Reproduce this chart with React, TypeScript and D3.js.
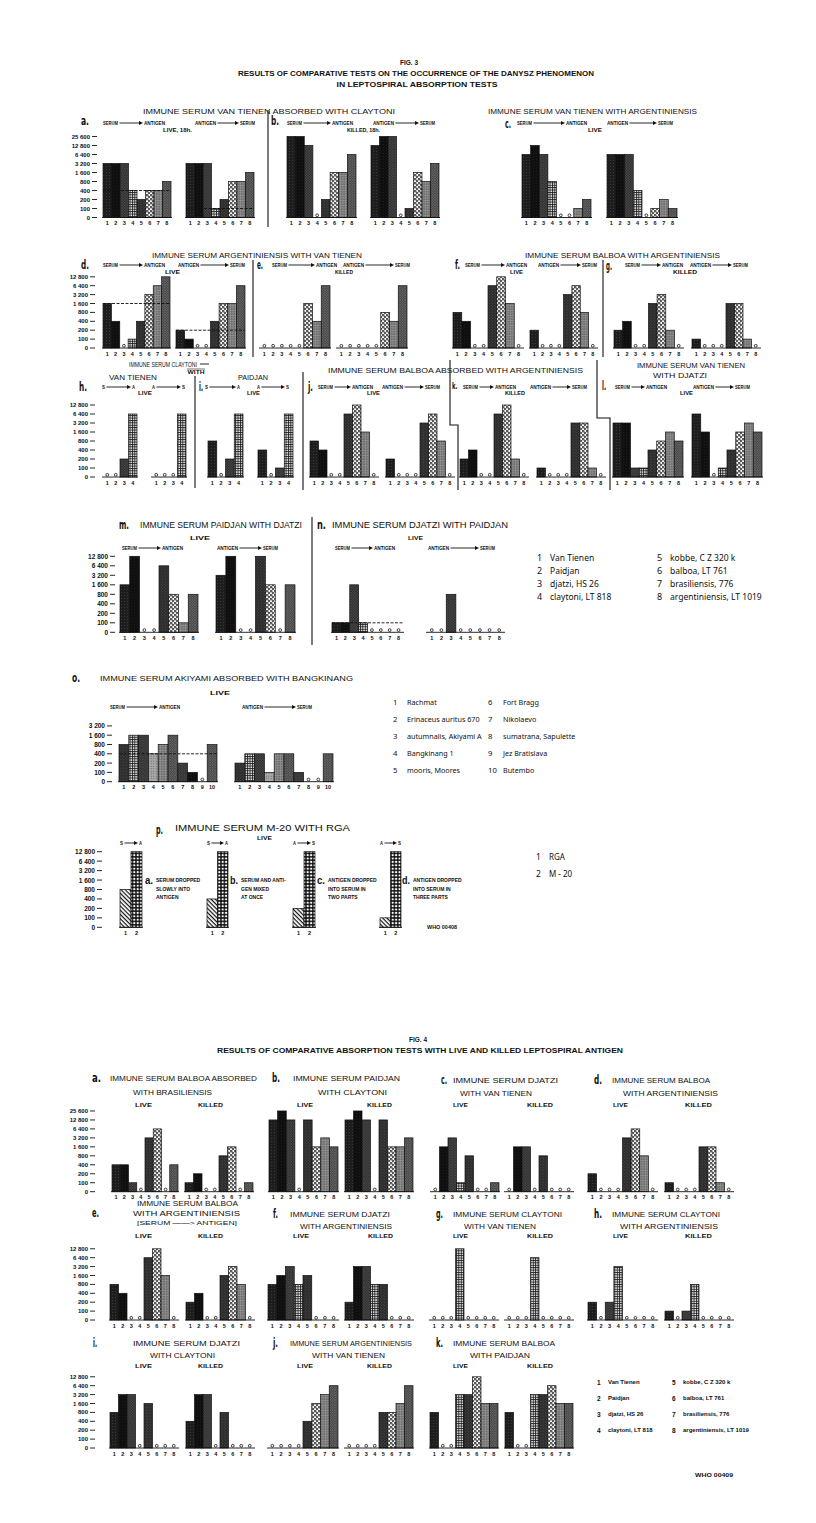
import React from 'react';
import * as d3 from 'd3';

// ---------------- DATA ----------------
const titreTicks = [0, 100, 200, 400, 800, 1600, 3200, 6400, 12800, 25600];
const titreTickLabels = ['0', '100', '200', '400', '800', '1 600', '3 200', '6 400', '12 800', '25 600'];
const strains8 = ['1', '2', '3', '4', '5', '6', '7', '8'];
const strains4 = ['1', '2', '3', '4'];
const strains10 = ['1', '2', '3', '4', '5', '6', '7', '8', '9', '10'];
const strains2 = ['1', '2'];

// Fig. 3
const f3a_sa = [3200, 3200, 3200, 400, 200, 400, 400, 800];
const f3a_as = [3200, 3200, 3200, 100, 200, 800, 800, 1600];
const f3b_sa = [25600, 25600, 12800, 0, 200, 1600, 1600, 6400];
const f3b_as = [12800, 25600, 25600, 0, 100, 1600, 800, 3200];
const f3c_sa = [6400, 12800, 6400, 800, 0, 0, 100, 200];
const f3c_as = [6400, 6400, 6400, 400, 0, 100, 200, 100];
const f3d_sa = [1600, 400, 0, 100, 400, 3200, 6400, 12800];
const f3d_as = [200, 100, 0, 0, 400, 1600, 1600, 6400];
const f3e_sa = [0, 0, 0, 0, 0, 1600, 400, 6400];
const f3e_as = [0, 0, 0, 0, 0, 800, 400, 6400];
const f3f_sa = [800, 400, 0, 0, 6400, 12800, 1600, 0];
const f3f_as = [200, 0, 0, 0, 3200, 6400, 800, 0];
const f3g_sa = [200, 400, 0, 0, 1600, 3200, 200, 0];
const f3g_as = [100, 0, 0, 0, 1600, 1600, 100, 0];
const f3h_sa = [0, 0, 200, 6400];
const f3h_as = [0, 0, 0, 6400];
const f3i_sa = [800, 0, 200, 6400];
const f3i_as = [400, 0, 100, 6400];
const f3j_sa = [800, 400, 0, 0, 6400, 12800, 1600, 0];
const f3j_as = [200, 0, 0, 0, 3200, 6400, 800, 0];
const f3k_sa = [200, 400, 0, 0, 6400, 12800, 200, 0];
const f3k_as = [100, 0, 0, 0, 3200, 3200, 100, 0];
const f3l_sa = [3200, 3200, 100, 100, 400, 800, 1600, 800];
const f3l_as = [6400, 1600, 0, 100, 400, 1600, 3200, 1600];
const f3m_sa = [1600, 12800, 0, 0, 6400, 800, 100, 800];
const f3m_as = [3200, 12800, 0, 0, 12800, 1600, 0, 1600];
const f3n_sa = [100, 100, 1600, 100, 0, 0, 0, 0];
const f3n_as = [0, 0, 800, 0, 0, 0, 0, 0];
const f3o_sa = [800, 1600, 1600, 400, 800, 1600, 200, 100, 0, 800];
const f3o_as = [200, 400, 400, 100, 400, 400, 100, 0, 0, 400];
const f3p_rga = [800, 400, 200, 100];
const f3p_m20 = [12800, 12800, 12800, 12800];
// serum reference titres (horizontal lines)
const refA = [400, 100];
const refD = [1600, 200];
const refN = [100];
const refO = [400];

// Fig. 4
const f4a_live = [400, 400, 100, 0, 3200, 6400, 0, 400];
const f4a_killed = [100, 200, 0, 0, 800, 1600, 0, 100];
const f4b_live = [12800, 25600, 12800, 0, 12800, 1600, 3200, 1600];
const f4b_killed = [12800, 25600, 12800, 0, 12800, 1600, 1600, 3200];
const f4c_live = [0, 1600, 3200, 100, 800, 0, 0, 100];
const f4c_killed = [0, 1600, 1600, 0, 800, 0, 0, 0];
const f4d_live = [200, 0, 0, 0, 3200, 6400, 800, 0];
const f4d_killed = [100, 0, 0, 0, 1600, 1600, 100, 0];
const f4e_live = [800, 400, 0, 0, 6400, 12800, 1600, 0];
const f4e_killed = [200, 400, 0, 0, 1600, 3200, 800, 0];
const f4f_live = [800, 1600, 3200, 800, 1600, 0, 0, 0];
const f4f_killed = [200, 3200, 3200, 800, 800, 0, 0, 0];
const f4g_live = [0, 0, 0, 12800, 0, 0, 0, 0];
const f4g_killed = [0, 0, 0, 6400, 0, 0, 0, 0];
const f4h_live = [200, 0, 200, 3200, 0, 0, 0, 0];
const f4h_killed = [100, 0, 100, 800, 0, 0, 0, 0];
const f4i_live = [800, 3200, 3200, 0, 1600, 0, 0, 0];
const f4i_killed = [400, 3200, 3200, 0, 800, 0, 0, 0];
const f4j_live = [0, 0, 0, 0, 400, 1600, 3200, 6400];
const f4j_killed = [0, 0, 0, 0, 800, 800, 1600, 6400];
const f4k_live = [800, 0, 0, 3200, 3200, 12800, 1600, 1600];
const f4k_killed = [800, 0, 0, 3200, 3200, 6400, 1600, 1600];

// Legends
const legend8Names = ['Van Tienen', 'Paidjan', 'djatzi, HS 26', 'claytoni, LT 818', 'kobbe, C Z  320 k', 'balboa, LT 761', 'brasiliensis,  776', 'argentiniensis, LT 1019'];
const legendONames = ['Rachmat', 'Erinaceus auritus 670', 'autumnalis, Akiyami A', 'Bangkinang  1', 'mooris, Moores', 'Fort Bragg', 'Nikolaevo', 'sumatrana, Sapulette', 'Jez Bratislava', 'Butembo'];
const legendPNames = ['RGA', 'M - 20'];

// ---------------- STYLE ----------------
const FONT = "'Liberation Sans', 'DejaVu Sans', Arial, sans-serif";
const LFONT = "'Noto Sans', 'Liberation Sans', sans-serif";
const INK = '#111';
const pats8 = ['p1', 'p2', 'p3', 'p4', 'p5', 'p6', 'p7', 'p8'];
const patsO = ['p5', 'p4', 'p3', 'pl', 'p7', 'p8', 'p3', 'p2', 'p1', 'p8'];
const patsP = ['hatch', 'rings'];

const levelOf = (t: number) => (t <= 0 ? 0 : Math.log2(t / 50));

function T({ x, y, w, a = 'start', s = 6, wt = 700, f = FONT, children }: any) {
  const extra: any = w ? { textLength: w, lengthAdjust: 'spacingAndGlyphs' } : {};
  return (
    <text x={x} y={y} fontSize={s} fontWeight={wt} fontFamily={f} textAnchor={a}
      dominantBaseline="central" fill={INK} {...extra}>{children}</text>
  );
}

const Title = ({ x0, x1, y, children, s = 8 }: any) => (
  <T x={x0} y={y} w={x1 - x0} s={s} wt={400}>{children}</T>
);
const Letter = ({ x, y, children, w = 8, s = 12 }: any) => (
  <T x={x} y={y} w={w} s={s} wt={700} f="'DejaVu Sans', 'Liberation Sans', sans-serif">{children}</T>
);

function Arrow({ x0, x1, y, l = 'SERUM', r = 'ANTIGEN', s = 5 }: any) {
  const cw = s * 0.6;
  const lw = l.length * cw;
  const rw = r.length * cw;
  const ax0 = x0 + lw + 1.5;
  const ax1 = x1 - rw - 1;
  return (
    <g>
      <T x={x0} y={y} w={lw} s={s}>{l}</T>
      <line x1={ax0} x2={ax1 - 3} y1={y} y2={y} stroke={INK} strokeWidth={0.9} />
      <path d={`M${ax1 - 4},${y - 2}L${ax1},${y}L${ax1 - 4},${y + 2}Z`} fill={INK} />
      <T x={x1 - rw} y={y} w={rw} s={s}>{r}</T>
    </g>
  );
}

function YAxis({ dashX, base, step, max, s = 6 }: any) {
  const y = d3.scaleLinear().domain([0, 9]).range([base, base - 9 * step]);
  return (
    <g>
      {titreTicks.slice(0, max + 1).map((t, i) => (
        <g key={t}>
          <T x={dashX - 7} y={y(levelOf(t))} a="end" s={s}>{titreTickLabels[i]}</T>
          <line x1={dashX - 5} x2={dashX} y1={y(levelOf(t))} y2={y(levelOf(t))} stroke={INK} strokeWidth={0.9} />
        </g>
      ))}
    </g>
  );
}

function Cluster({ v, x0, x1, base, step, pats = pats8, labels = strains8, refT }: any) {
  const xs = d3.scaleBand<number>().domain(d3.range(v.length)).range([x0, x1]);
  const ys = d3.scaleLinear().domain([0, 9]).range([base, base - 9 * step]);
  const bw = xs.bandwidth();
  return (
    <g>
      {v.map((t: number, i: number) =>
        t > 0 ? (
          <rect key={i} x={xs(i)} y={ys(levelOf(t))} width={bw} height={base - ys(levelOf(t))}
            fill={`url(#${pats[i % pats.length]})`} stroke={INK} strokeWidth={0.7} />
        ) : (
          <circle key={i} cx={(xs(i) as number) + bw / 2} cy={base - 2.2} r={1.4}
            fill="none" stroke={INK} strokeWidth={0.8} />
        )
      )}
      <line x1={x0 - 1} x2={x1 + 1} y1={base} y2={base} stroke={INK} strokeWidth={0.9} />
      {labels.map((lb: string, i: number) => (
        <text key={'l' + i} x={(xs(i) as number) + bw / 2} y={base + 5.5} fontSize={5.5} fontWeight={700}
          textAnchor="middle" dominantBaseline="central" fontFamily={FONT} fill={INK}>{lb}</text>
      ))}
      {refT != null && (
        <line x1={x0} x2={x1} y1={ys(levelOf(refT))} y2={ys(levelOf(refT))} stroke={INK}
          strokeWidth={0.9} strokeDasharray="3 1.5" />
      )}
    </g>
  );
}

function Defs() {
  return (
    <defs>
      <pattern id="p1" width="3" height="3" patternUnits="userSpaceOnUse">
        <rect width="3" height="3" fill="#1d1d1d" />
        <rect x="1" y="1" width="0.8" height="0.8" fill="#4a4a4a" />
      </pattern>
      <pattern id="p2" width="3" height="3" patternUnits="userSpaceOnUse">
        <rect width="3" height="3" fill="#0f0f0f" />
        <rect x="2" y="0" width="0.6" height="0.6" fill="#333" />
      </pattern>
      <pattern id="p3" width="2.6" height="2.6" patternUnits="userSpaceOnUse">
        <rect width="2.6" height="2.6" fill="#2a2a2a" />
        <path d="M0,0L2.6,2.6M2.6,0L0,2.6" stroke="#5a5a5a" strokeWidth="0.5" />
      </pattern>
      <pattern id="p4" width="2.4" height="2.4" patternUnits="userSpaceOnUse">
        <rect width="2.4" height="2.4" fill="#eee" />
        <rect width="2.4" height="0.9" fill="#222" />
        <rect width="0.9" height="2.4" fill="#222" />
      </pattern>
      <pattern id="p5" width="3" height="3" patternUnits="userSpaceOnUse">
        <rect width="3" height="3" fill="#2c2c2c" />
        <circle cx="0.8" cy="0.8" r="0.45" fill="#6a6a6a" />
        <circle cx="2.3" cy="2.2" r="0.45" fill="#555" />
      </pattern>
      <pattern id="p6" width="4" height="4" patternUnits="userSpaceOnUse">
        <rect width="4" height="4" fill="#f4f4f4" />
        <circle cx="1" cy="1" r="0.9" fill="#111" />
        <circle cx="3" cy="3" r="0.9" fill="#111" />
        <rect x="2.6" y="0.2" width="0.8" height="0.6" fill="#111" />
        <rect x="0.3" y="2.7" width="0.7" height="0.8" fill="#111" />
      </pattern>
      <pattern id="p7" width="2.5" height="2.5" patternUnits="userSpaceOnUse">
        <rect width="2.5" height="2.5" fill="#6e6e6e" />
        <path d="M0,0.3H2.5M0.3,0V2.5" stroke="#a5a5a5" strokeWidth="0.5" />
      </pattern>
      <pattern id="p8" width="2.5" height="2.5" patternUnits="userSpaceOnUse">
        <rect width="2.5" height="2.5" fill="#3c3c3c" />
        <path d="M0,0L2.5,2.5M2.5,0L0,2.5" stroke="#888" strokeWidth="0.45" />
      </pattern>
      <pattern id="pl" width="2.5" height="2.5" patternUnits="userSpaceOnUse">
        <rect width="2.5" height="2.5" fill="#a8a8a8" />
        <circle cx="1.2" cy="1.2" r="0.5" fill="#555" />
      </pattern>
      <pattern id="hatch" width="3" height="3" patternUnits="userSpaceOnUse" patternTransform="rotate(45)">
        <rect width="3" height="3" fill="#fff" />
        <rect width="3" height="1.2" fill="#111" />
      </pattern>
      <pattern id="rings" width="3.4" height="3.4" patternUnits="userSpaceOnUse">
        <rect width="3.4" height="3.4" fill="#111" />
        <circle cx="1.7" cy="1.7" r="1.15" fill="#fff" />
      </pattern>
    </defs>
  );
}

function Legend({ x, y, dy, nums, names, s = 8.5, gap = 13, f = LFONT, wt = 400 }: any) {
  return (
    <g>
      {names.map((n: string, i: number) => (
        <g key={i}>
          <T x={x} y={y + i * dy} s={s + 0.5} wt={wt} f={f}>{nums[i]}</T>
          <T x={x + gap} y={y + i * dy} s={s} wt={wt} f={f}>{n}</T>
        </g>
      ))}
    </g>
  );
}

export default function App() {
  // row geometry
  const R1 = { base: 217.5, step: 9 };
  const R2 = { base: 348, step: 8.9 };
  const R3 = { base: 477, step: 9 };
  const R4 = { base: 632.3, step: 9.5 };
  const R5 = { base: 781.7, step: 9.3 };
  const R6 = { base: 927.3, step: 9.45 };
  const R7 = { base: 1191.7, step: 8.97 };
  const R8 = { base: 1320, step: 8.9 };
  const R9 = { base: 1448, step: 8.9 };
  const pPairs = f3p_rga.map((r, i) => [r, f3p_m20[i]]);
  const pX = [[120, 142], [207, 228], [293, 315], [380, 401]];
  const pText = [
    ['a.', 'SERUM DROPPED', 'SLOWLY INTO', 'ANTIGEN'],
    ['b.', 'SERUM AND ANTI-', 'GEN MIXED', 'AT ONCE'],
    ['c.', 'ANTIGEN DROPPED', 'INTO SERUM IN', 'TWO PARTS'],
    ['d.', 'ANTIGEN DROPPED', 'INTO SERUM IN', 'THREE PARTS'],
  ];
  const pTextX = [145, 230, 317, 402];
  const pArrow = [['S', 'A'], ['S', 'A'], ['A', 'S'], ['A', 'S']];

  return (
    <svg width={816} height={1523} style={{ position: 'absolute', left: 0, top: 0, background: '#fff' }}>
      <Defs />
      <rect width={816} height={1523} fill="#fff" />

      {/* ================= FIG. 3 ================= */}
      <T x={409} y={62} a="middle" s={6.5}>FIG. 3</T>
      <T x={416} y={73} a="middle" s={6.5} w={356}>RESULTS OF COMPARATIVE TESTS ON THE OCCURRENCE OF THE DANYSZ PHENOMENON</T>
      <T x={417} y={84} a="middle" s={6.5} w={161}>IN LEPTOSPIRAL ABSORPTION TESTS</T>

      {/* Row 1: a b c */}
      <Title x0={143} x1={395} y={111}>IMMUNE SERUM VAN TIENEN ABSORBED WITH CLAYTONI</Title>
      <Title x0={488} x1={697} y={111}>IMMUNE SERUM VAN TIENEN WITH ARGENTINIENSIS</Title>
      <Letter x={81} y={121}>a.</Letter>
      <Letter x={271} y={121}>b.</Letter>
      <Letter x={505} y={124} w={6}>c.</Letter>
      <Arrow x0={103} x1={165} y={123} />
      <Arrow x0={195} x1={255} y={123} l="ANTIGEN" r="SERUM" />
      <Arrow x0={287} x1={353} y={123} />
      <Arrow x0={373} x1={435} y={123} l="ANTIGEN" r="SERUM" />
      <Arrow x0={517} x1={587} y={123} />
      <Arrow x0={607} x1={673} y={123} l="ANTIGEN" r="SERUM" />
      <T x={163} y={130} w={29} s={5}>LIVE, 18h.</T>
      <T x={347} y={130} w={33} s={5}>KILLED, 18h.</T>
      <T x={588} y={130} w={14} s={5}>LIVE</T>
      <line x1={268} x2={268} y1={110} y2={227} stroke={INK} strokeWidth={1.1} />
      <YAxis dashX={97} max={9} {...R1} />
      <Cluster v={f3a_sa} x0={103} x1={171} refT={refA[0]} {...R1} />
      <Cluster v={f3a_as} x0={186} x1={254} refT={refA[1]} {...R1} />
      <Cluster v={f3b_sa} x0={287} x1={356} {...R1} />
      <Cluster v={f3b_as} x0={371} x1={439} {...R1} />
      <Cluster v={f3c_sa} x0={522} x1={591} {...R1} />
      <Cluster v={f3c_as} x0={607} x1={677} {...R1} />

      {/* Row 2: d e f g */}
      <Title x0={152} x1={362} y={255}>IMMUNE SERUM ARGENTINIENSIS WITH VAN TIENEN</Title>
      <Title x0={525} x1={720} y={255}>IMMUNE SERUM BALBOA WITH ARGENTINIENSIS</Title>
      <Letter x={81} y={265}>d.</Letter>
      <Letter x={257} y={265} w={6}>e.</Letter>
      <Letter x={455} y={265} w={5}>f.</Letter>
      <Letter x={606} y={266} w={6}>g.</Letter>
      <Arrow x0={103} x1={165} y={265} />
      <Arrow x0={178} x1={245} y={265} l="ANTIGEN" r="SERUM" />
      <Arrow x0={272} x1={337} y={265} />
      <Arrow x0={343} x1={410} y={265} l="ANTIGEN" r="SERUM" />
      <Arrow x0={465} x1={527} y={265} />
      <Arrow x0={538} x1={597} y={265} l="ANTIGEN" r="SERUM" />
      <Arrow x0={625} x1={683} y={265} />
      <Arrow x0={690} x1={748} y={265} l="ANTIGEN" r="SERUM" />
      <T x={165} y={272} w={15} s={5}>LIVE</T>
      <T x={335} y={272} w={18} s={5}>KILLED</T>
      <T x={510} y={272} w={13} s={5}>LIVE</T>
      <T x={673} y={272} w={24} s={5}>KILLED</T>
      <line x1={253} x2={253} y1={260} y2={357} stroke={INK} strokeWidth={1.1} />
      <line x1={603} x2={603} y1={260} y2={357} stroke={INK} strokeWidth={1.1} />
      <YAxis dashX={95} max={8} {...R2} />
      <Cluster v={f3d_sa} x0={103} x1={170} refT={refD[0]} {...R2} />
      <Cluster v={f3d_as} x0={176} x1={245} refT={refD[1]} {...R2} />
      <Cluster v={f3e_sa} x0={260} x1={330} {...R2} />
      <Cluster v={f3e_as} x0={337} x1={407} {...R2} />
      <Cluster v={f3f_sa} x0={453} x1={523} {...R2} />
      <Cluster v={f3f_as} x0={530} x1={597} {...R2} />
      <Cluster v={f3g_sa} x0={614} x1={683} {...R2} />
      <Cluster v={f3g_as} x0={692} x1={760} {...R2} />

      {/* Row 3: h i j k l */}
      <Title x0={129} x1={197} y={364}>IMMUNE SERUM CLAYTONI</Title>
      <line x1={200} x2={209} y1={364} y2={364} stroke={INK} strokeWidth={0.9} />
      <line x1={187} x2={205} y1={369} y2={369} stroke={INK} strokeWidth={0.6} />
      <T x={196} y={372} a="middle" w={17} s={4.5}>WITH</T>
      <Title x0={109} x1={157} y={377}>VAN TIENEN</Title>
      <Title x0={238} x1={268} y={377}>PAIDJAN</Title>
      <Title x0={328} x1={583} y={370}>IMMUNE SERUM BALBOA ABSORBED WITH ARGENTINIENSIS</Title>
      <Title x0={637} x1={745} y={365}>IMMUNE SERUM VAN TIENEN</Title>
      <Title x0={653} x1={707} y={375}>WITH DJATZI</Title>
      <Letter x={79} y={387}>h.</Letter>
      <Letter x={199} y={387} w={4}>i.</Letter>
      <Letter x={308} y={387} w={5}>j.</Letter>
      <Letter x={452} y={386} w={5.5} s={9}>k.</Letter>
      <Letter x={602} y={386} w={4}>l.</Letter>
      <Arrow x0={102} x1={135} y={387} l="S" r="A" />
      <Arrow x0={152} x1={185} y={387} l="A" r="S" />
      <Arrow x0={205} x1={240} y={387} l="S" r="A" />
      <Arrow x0={257} x1={289} y={387} l="A" r="S" />
      <Arrow x0={318} x1={373} y={387} />
      <Arrow x0={382} x1={440} y={387} l="ANTIGEN" r="SERUM" />
      <Arrow x0={463} x1={516} y={387} />
      <Arrow x0={530} x1={587} y={387} l="ANTIGEN" r="SERUM" />
      <Arrow x0={615} x1={667} y={387} />
      <Arrow x0={693} x1={750} y={387} l="ANTIGEN" r="SERUM" />
      <T x={138} y={393} w={14} s={5}>LIVE</T>
      <T x={247} y={393} w={13} s={5}>LIVE</T>
      <T x={367} y={393} w={13} s={5}>LIVE</T>
      <T x={505} y={393} w={20} s={5}>KILLED</T>
      <T x={680} y={393} w={13} s={5}>LIVE</T>
      <line x1={195} x2={195} y1={376} y2={488} stroke={INK} strokeWidth={1.1} />
      <line x1={303} x2={303} y1={372} y2={490} stroke={INK} strokeWidth={1.1} />
      <path d="M450,360V425H458V490" fill="none" stroke={INK} strokeWidth={1.1} />
      <path d="M597,360V418H610V490" fill="none" stroke={INK} strokeWidth={1.1} />
      <YAxis dashX={95} max={8} {...R3} />
      <Cluster v={f3h_sa} x0={103} x1={137} labels={strains4} {...R3} />
      <Cluster v={f3h_as} x0={152} x1={186} labels={strains4} {...R3} />
      <Cluster v={f3i_sa} x0={208} x1={243} labels={strains4} {...R3} />
      <Cluster v={f3i_as} x0={258} x1={293} labels={strains4} {...R3} />
      <Cluster v={f3j_sa} x0={310} x1={378} {...R3} />
      <Cluster v={f3j_as} x0={386} x1={454} {...R3} />
      <Cluster v={f3k_sa} x0={460} x1={528} {...R3} />
      <Cluster v={f3k_as} x0={537} x1={605} {...R3} />
      <Cluster v={f3l_sa} x0={613} x1={683} {...R3} />
      <Cluster v={f3l_as} x0={692} x1={762} {...R3} />

      {/* Row 4: m n */}
      <Letter x={119} y={525} w={10}>m.</Letter>
      <Title x0={140} x1={302} y={525} s={8.5}>IMMUNE SERUM PAIDJAN WITH DJATZI</Title>
      <T x={190} y={538} w={20} s={5.5}>LIVE</T>
      <Arrow x0={122} x1={183} y={548} />
      <Arrow x0={217} x1={278} y={548} l="ANTIGEN" r="SERUM" />
      <line x1={312} x2={312} y1={517} y2={645} stroke={INK} strokeWidth={1.1} />
      <Letter x={317} y={525} w={9}>n.</Letter>
      <Title x0={332} x1={508} y={525} s={8.5}>IMMUNE SERUM DJATZI WITH PAIDJAN</Title>
      <T x={408} y={538} w={15} s={5.5}>LIVE</T>
      <Arrow x0={335} x1={395} y={548} />
      <Arrow x0={428} x1={495} y={548} l="ANTIGEN" r="SERUM" />
      <YAxis dashX={115} max={8} s={6.5} {...R4} />
      <Cluster v={f3m_sa} x0={120} x1={198} {...R4} />
      <Cluster v={f3m_as} x0={216} x1={295} {...R4} />
      <Cluster v={f3n_sa} x0={332} x1={403} refT={refN[0]} {...R4} />
      <Cluster v={f3n_as} x0={427} x1={504} {...R4} />
      <Legend x={537} y={557} dy={13} nums={strains8.slice(0, 4)} names={legend8Names.slice(0, 4)} />
      <Legend x={657} y={557} dy={13} nums={strains8.slice(4)} names={legend8Names.slice(4)} />

      {/* Row 5: o */}
      <Letter x={72} y={678} w={8}>o.</Letter>
      <Title x0={100} x1={353} y={678}>IMMUNE SERUM AKIYAMI ABSORBED WITH BANGKINANG</Title>
      <T x={210} y={693} w={20} s={5.5}>LIVE</T>
      <Arrow x0={110} x1={180} y={707} />
      <Arrow x0={242} x1={312} y={707} l="ANTIGEN" r="SERUM" />
      <YAxis dashX={112} max={6} s={6.5} {...R5} />
      <Cluster v={f3o_sa} x0={119} x1={217} pats={patsO} labels={strains10} refT={refO[0]} {...R5} />
      <Cluster v={f3o_as} x0={235} x1={333} pats={patsO} labels={strains10} {...R5} />
      <Legend x={393} y={702} dy={17} nums={strains10.slice(0, 5)} names={legendONames.slice(0, 5)} s={7.2} gap={14} />
      <Legend x={488} y={702} dy={17} nums={strains10.slice(5)} names={legendONames.slice(5)} s={7.2} gap={15} />

      {/* Row 6: p */}
      <Letter x={156} y={830} w={7}>p.</Letter>
      <Title x0={175} x1={350} y={828} s={8.5}>IMMUNE SERUM M-20 WITH RGA</Title>
      <T x={257} y={838} w={15} s={5}>LIVE</T>
      {pX.map(([a, b], i) => (
        <Arrow key={'pa' + i} x0={a} x1={b} y={843} l={pArrow[i][0]} r={pArrow[i][1]} />
      ))}
      <YAxis dashX={102} max={8} s={6.5} {...R6} />
      {pPairs.map((pv, i) => (
        <Cluster key={'pc' + i} v={pv} x0={pX[i][0]} x1={pX[i][1]} pats={patsP} labels={strains2} {...R6} />
      ))}
      {pText.map((lines, i) => (
        <g key={'pt' + i}>
          <T x={pTextX[i]} y={880} s={11} wt={700} w={8}>{lines[0]}</T>
          {lines.slice(1).map((ln, j) => (
            <T key={j} x={pTextX[i] + 11} y={880 + j * 8.5} s={5}>{ln}</T>
          ))}
        </g>
      ))}
      <T x={427} y={927} w={30} s={5.5}>WHO 00408</T>
      <Legend x={536} y={856} dy={17} nums={strains2} names={legendPNames} s={8} gap={13} />

      {/* ================= FIG. 4 ================= */}
      <T x={418} y={1039} a="middle" s={6.5}>FIG. 4</T>
      <T x={420} y={1050} a="middle" s={6.5} w={406}>RESULTS OF COMPARATIVE ABSORPTION TESTS WITH LIVE AND KILLED LEPTOSPIRAL ANTIGEN</T>

      {/* Row a-d */}
      <Letter x={92} y={1078} w={9}>a.</Letter>
      <Title x0={110} x1={257} y={1078}>IMMUNE SERUM BALBOA ABSORBED</Title>
      <Title x0={133} x1={212} y={1092}>WITH BRASILIENSIS</Title>
      <Letter x={272} y={1078} w={8}>b.</Letter>
      <Title x0={293} x1={400} y={1078}>IMMUNE SERUM PAIDJAN</Title>
      <Title x0={318} x1={387} y={1092}>WITH CLAYTONI</Title>
      <Letter x={441} y={1080} w={6}>c.</Letter>
      <Title x0={453} x1={558} y={1080}>IMMUNE SERUM DJATZI</Title>
      <Title x0={460} x1={532} y={1093}>WITH VAN TIENEN</Title>
      <Letter x={594} y={1080} w={8}>d.</Letter>
      <Title x0={612} x1={710} y={1080}>IMMUNE SERUM BALBOA</Title>
      <Title x0={623} x1={718} y={1093}>WITH ARGENTINIENSIS</Title>
      {[[135, 152], [297, 313], [453, 468], [613, 628]].map(([a, b], i) => (
        <T key={'lv' + i} x={a} y={1105} w={b - a} s={5.5}>LIVE</T>
      ))}
      {[[198, 223], [367, 392], [527, 553], [685, 712]].map(([a, b], i) => (
        <T key={'kl' + i} x={a} y={1105} w={b - a} s={5.5}>KILLED</T>
      ))}
      <YAxis dashX={95} max={9} {...R7} />
      <Cluster v={f4a_live} x0={112} x1={178} {...R7} />
      <Cluster v={f4a_killed} x0={185} x1={253} {...R7} />
      <Cluster v={f4b_live} x0={269} x1={338} {...R7} />
      <Cluster v={f4b_killed} x0={345} x1={413} {...R7} />
      <Cluster v={f4c_live} x0={431} x1={499} {...R7} />
      <Cluster v={f4c_killed} x0={505} x1={573} {...R7} />
      <Cluster v={f4d_live} x0={588} x1={657} {...R7} />
      <Cluster v={f4d_killed} x0={665} x1={733} {...R7} />

      {/* Row e-h */}
      <Letter x={92} y={1213} w={7}>e.</Letter>
      <Title x0={137} x1={238} y={1203}>IMMUNE SERUM BALBOA</Title>
      <Title x0={133} x1={240} y={1213}>WITH ARGENTINIENSIS</Title>
      <T x={137} y={1223} w={100} s={6} wt={400}>[SERUM ——&gt; ANTIGEN]</T>
      <Letter x={273} y={1214} w={5}>f.</Letter>
      <Title x0={290} x1={390} y={1214}>IMMUNE SERUM DJATZI</Title>
      <Title x0={300} x1={392} y={1226}>WITH ARGENTINIENSIS</Title>
      <Letter x={436} y={1214} w={7}>g.</Letter>
      <Title x0={453} x1={562} y={1214}>IMMUNE SERUM CLAYTONI</Title>
      <Title x0={464} x1={536} y={1226}>WITH VAN TIENEN</Title>
      <Letter x={594} y={1214} w={8}>h.</Letter>
      <Title x0={612} x1={720} y={1214}>IMMUNE SERUM CLAYTONI</Title>
      <Title x0={620} x1={718} y={1226}>WITH ARGENTINIENSIS</Title>
      {[[135, 152], [293, 309], [453, 468], [613, 628]].map(([a, b], i) => (
        <T key={'lv2' + i} x={a} y={1236} w={b - a} s={5.5}>LIVE</T>
      ))}
      {[[198, 223], [368, 393], [527, 553], [685, 712]].map(([a, b], i) => (
        <T key={'kl2' + i} x={a} y={1236} w={b - a} s={5.5}>KILLED</T>
      ))}
      <YAxis dashX={95} max={8} {...R8} />
      <Cluster v={f4e_live} x0={110} x1={178} {...R8} />
      <Cluster v={f4e_killed} x0={186} x1={254} {...R8} />
      <Cluster v={f4f_live} x0={268} x1={338} {...R8} />
      <Cluster v={f4f_killed} x0={345} x1={413} {...R8} />
      <Cluster v={f4g_live} x0={430} x1={498} {...R8} />
      <Cluster v={f4g_killed} x0={505} x1={573} {...R8} />
      <Cluster v={f4h_live} x0={588} x1={657} {...R8} />
      <Cluster v={f4h_killed} x0={665} x1={733} {...R8} />

      {/* Row i-k */}
      <Letter x={93} y={1343} w={4}>i.</Letter>
      <Title x0={133} x1={240} y={1343}>IMMUNE SERUM DJATZI</Title>
      <Title x0={150} x1={215} y={1355}>WITH CLAYTONI</Title>
      <Letter x={273} y={1343} w={5}>j.</Letter>
      <Title x0={290} x1={412} y={1343}>IMMUNE SERUM ARGENTINIENSIS</Title>
      <Title x0={312} x1={385} y={1355}>WITH VAN TIENEN</Title>
      <Letter x={436} y={1343} w={7}>k.</Letter>
      <Title x0={453} x1={555} y={1343}>IMMUNE SERUM BALBOA</Title>
      <Title x0={470} x1={530} y={1355}>WITH PAIDJAN</Title>
      {[[135, 152], [297, 313], [453, 468]].map(([a, b], i) => (
        <T key={'lv3' + i} x={a} y={1366} w={b - a} s={5.5}>LIVE</T>
      ))}
      {[[198, 223], [367, 392], [527, 553]].map(([a, b], i) => (
        <T key={'kl3' + i} x={a} y={1366} w={b - a} s={5.5}>KILLED</T>
      ))}
      <YAxis dashX={95} max={8} {...R9} />
      <Cluster v={f4i_live} x0={110} x1={178} {...R9} />
      <Cluster v={f4i_killed} x0={186} x1={254} {...R9} />
      <Cluster v={f4j_live} x0={268} x1={338} {...R9} />
      <Cluster v={f4j_killed} x0={345} x1={413} {...R9} />
      <Cluster v={f4k_live} x0={430} x1={498} {...R9} />
      <Cluster v={f4k_killed} x0={505} x1={573} {...R9} />
      <Legend x={597} y={1382} dy={16} nums={strains8.slice(0, 4)} names={legend8Names.slice(0, 4)} s={6} gap={11} f={FONT} wt={700} />
      <Legend x={672} y={1382} dy={16} nums={strains8.slice(4)} names={legend8Names.slice(4)} s={6} gap={11} f={FONT} wt={700} />
      <T x={695} y={1475} w={38} s={6}>WHO 00409</T>
    </svg>
  );
}
